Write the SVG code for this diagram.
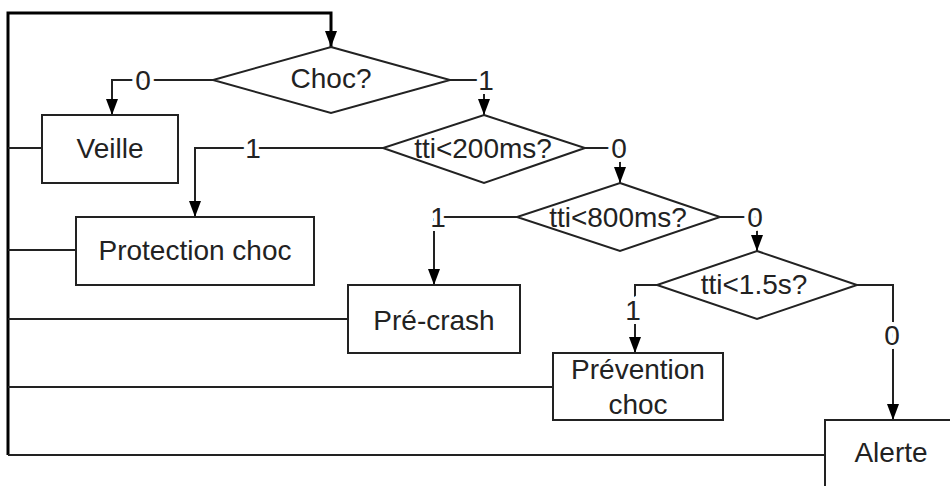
<svg xmlns="http://www.w3.org/2000/svg" width="950" height="486" viewBox="0 0 950 486">
<style>
.node rect, .node polygon { fill: #fff; stroke: #222; stroke-width: 2; }
.t { font-family: "Liberation Sans", Arial, sans-serif; font-size: 28px; fill: #222; text-anchor: middle; }
.lbl { font-family: "Liberation Sans", Arial, sans-serif; font-size: 28px; fill: #222; text-anchor: middle; stroke: #fff; stroke-width: 8; paint-order: stroke; }
.c { fill: none; stroke: #222; stroke-width: 2; }
.ca { fill: none; stroke: #222; stroke-width: 2; marker-end: url(#ah); }
.thick { fill: none; stroke: #000; stroke-width: 3; marker-end: url(#ah); }
</style>
<defs>
<marker id="ah" markerUnits="userSpaceOnUse" markerWidth="16" markerHeight="12" viewBox="0 0 16 12" refX="16" refY="6" orient="auto">
<path d="M0,0 L16,6 L0,12 Z" fill="#000"/>
</marker>
</defs>
<rect width="950" height="486" fill="#fff"/>
<g id="connectors">
<path class="thick" d="M8,455 L8,13 L331,13 L331,47"/>
<path class="ca" d="M213,80 L112,80 L112,115"/>
<path class="ca" d="M450,80 L484,80 L484,115"/>
<path class="ca" d="M383,148 L195,148 L195,217"/>
<path class="ca" d="M585,148 L620,148 L620,183"/>
<path class="ca" d="M517,217 L434,217 L434,285"/>
<path class="ca" d="M720,217 L757,217 L757,251"/>
<path class="ca" d="M657,285 L635,285 L635,353"/>
<path class="ca" d="M857,285 L893,285 L893,420"/>
<path class="c" d="M8,148 L42,148"/>
<path class="c" d="M8,250 L76,250"/>
<path class="c" d="M8,319 L348,319"/>
<path class="c" d="M8,387 L553,387"/>
<path class="c" d="M8,455 L825,455"/>
<text class="lbl" x="143" y="90">0</text>
<text class="lbl" x="486" y="90">1</text>
<text class="lbl" x="253" y="158">1</text>
<text class="lbl" x="619" y="158">0</text>
<text class="lbl" x="438" y="227">1</text>
<text class="lbl" x="755" y="227">0</text>
<text class="lbl" x="633" y="320">1</text>
<text class="lbl" x="892" y="345">0</text>
</g>
<g id="choc" class="node">
<polygon points="331,47 450,80 331,113 213,80"/>
<text class="t" x="331" y="88">Choc?</text>
</g>
<g id="veille" class="node">
<rect x="42" y="115" width="136" height="68"/>
<text class="t" x="110" y="158">Veille</text>
</g>
<g id="tti200" class="node">
<polygon points="484,115 585,148 484,183 383,148"/>
<text class="t" x="483" y="158">tti&lt;200ms?</text>
</g>
<g id="protection" class="node">
<rect x="76" y="217" width="238" height="68"/>
<text class="t" x="195" y="260">Protection choc</text>
</g>
<g id="tti800" class="node">
<polygon points="620,183 720,217 620,251 517,217"/>
<text class="t" x="618" y="227">tti&lt;800ms?</text>
</g>
<g id="precrash" class="node">
<rect x="348" y="285" width="172" height="68"/>
<text class="t" x="434" y="330">Pré-crash</text>
</g>
<g id="tti15" class="node">
<polygon points="757,251 857,285 757,319 657,285"/>
<text class="t" x="754" y="294">tti&lt;1.5s?</text>
</g>
<g id="prevention" class="node">
<rect x="553" y="353" width="170" height="67"/>
<text class="t" x="638" y="379">Prévention</text>
<text class="t" x="638" y="414">choc</text>
</g>
<g id="alerte" class="node">
<rect x="825" y="420" width="200" height="100"/>
<text class="t" x="891" y="462">Alerte</text>
</g>
</svg>
